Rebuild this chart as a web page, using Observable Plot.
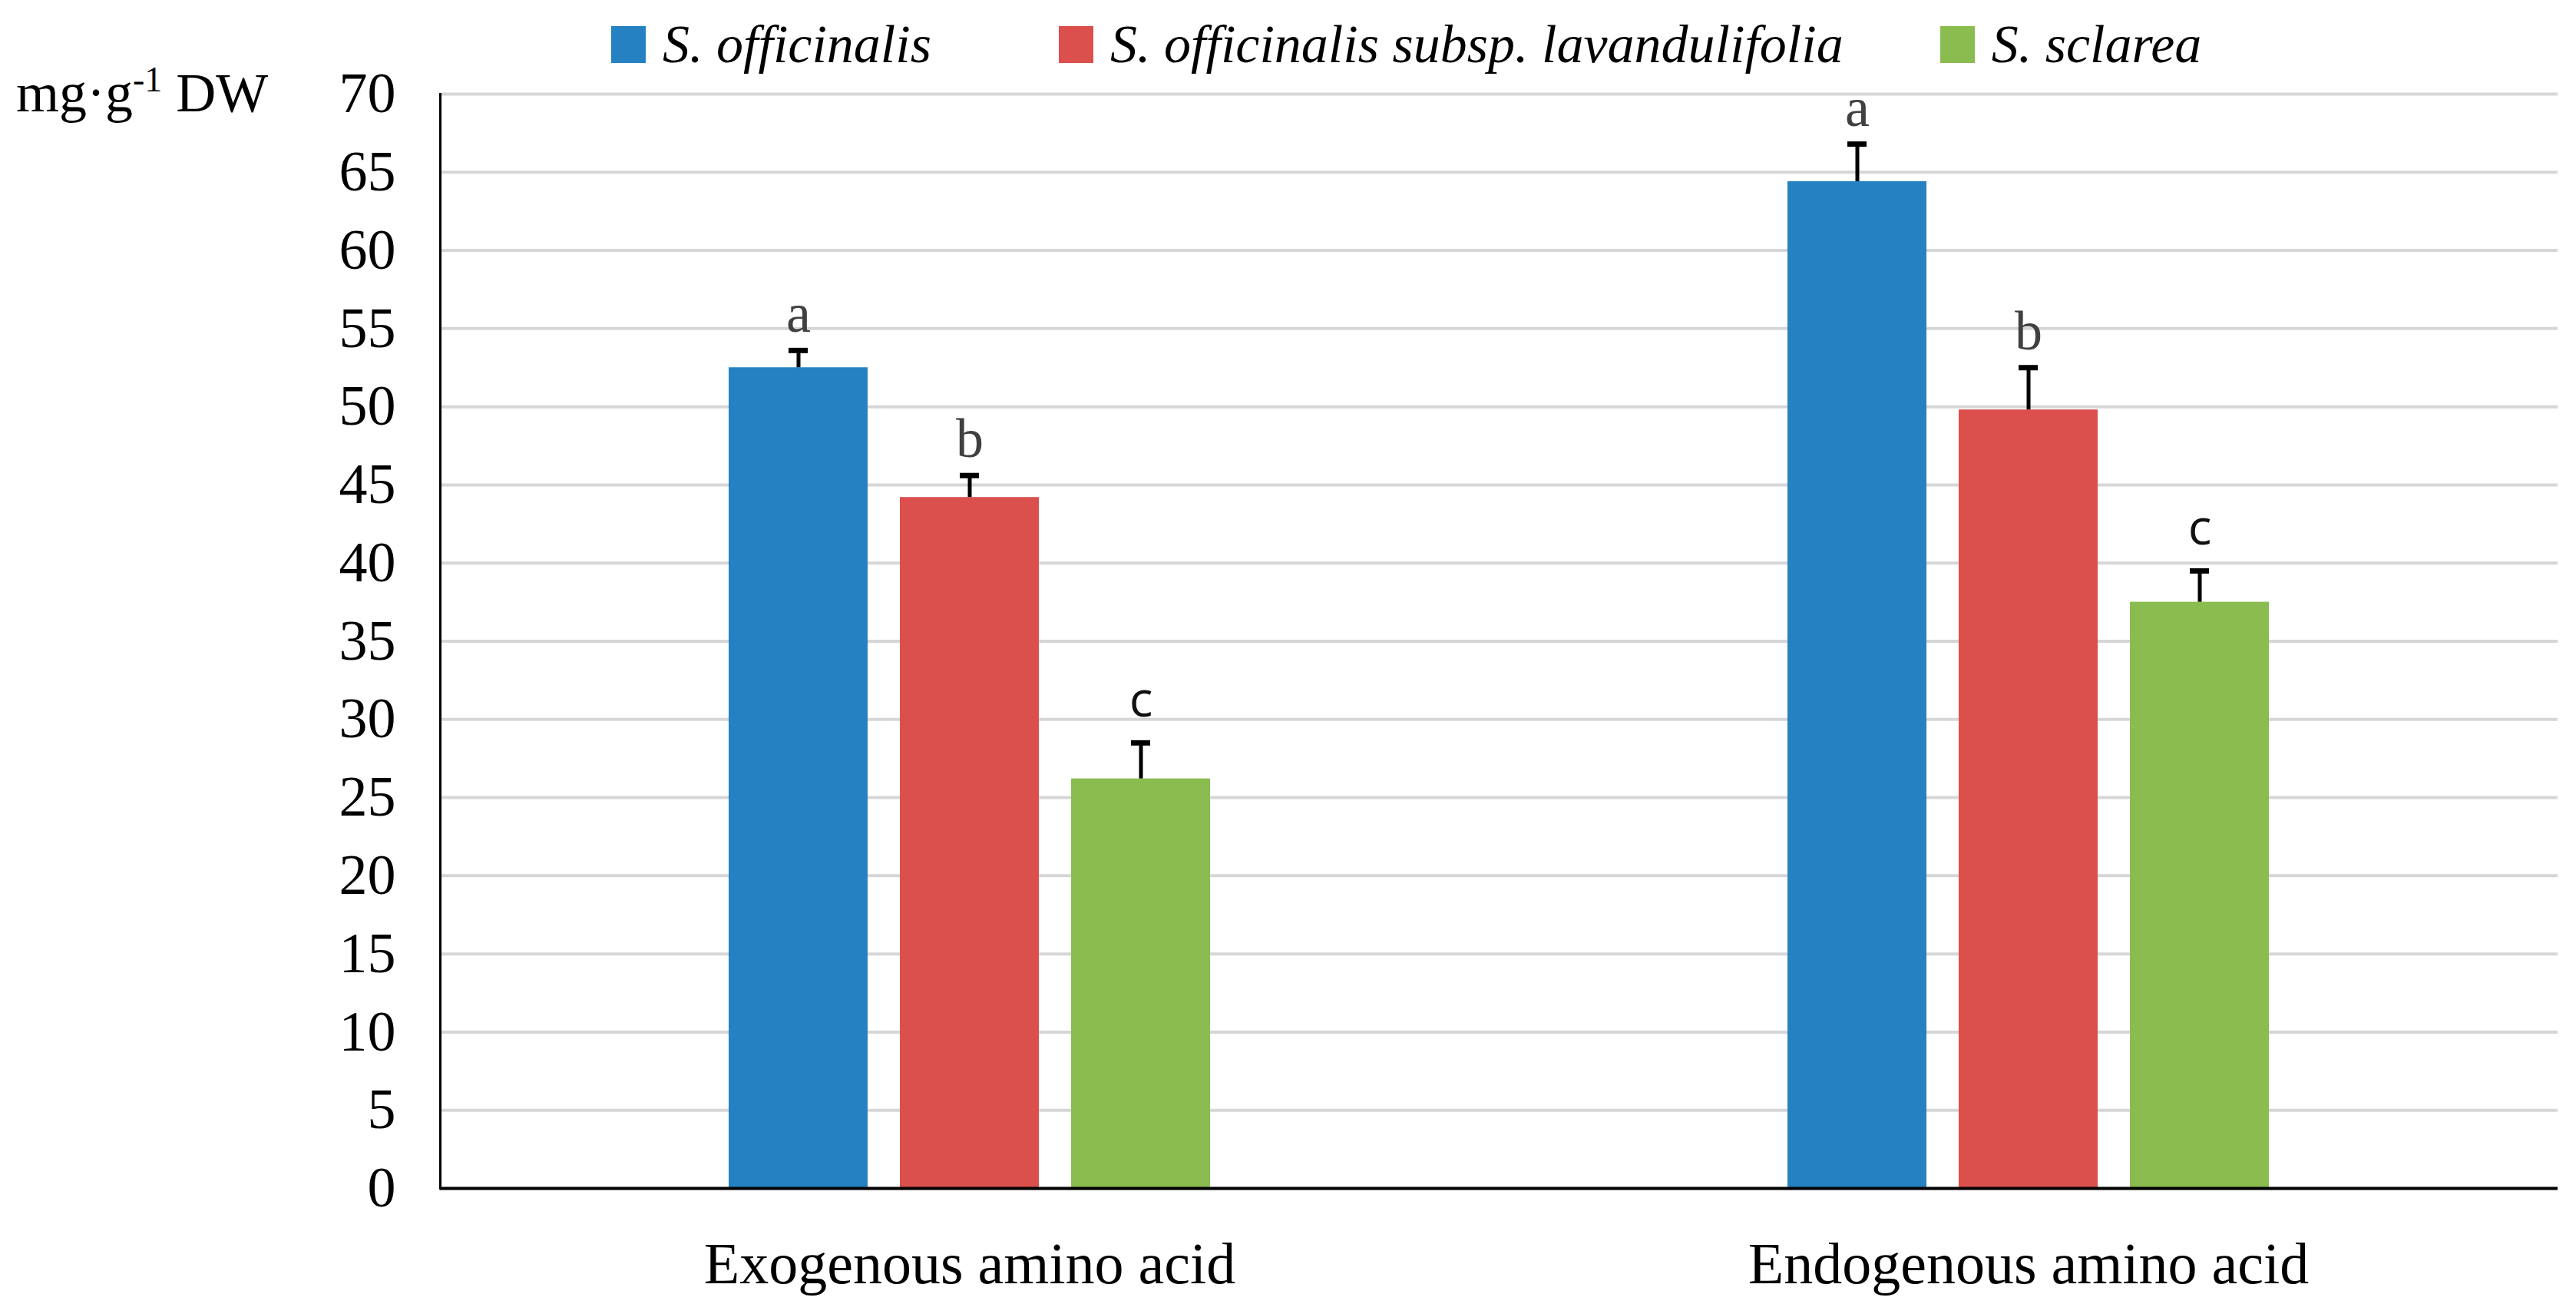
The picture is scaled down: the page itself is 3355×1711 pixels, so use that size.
<!DOCTYPE html>
<html>
<head>
<meta charset="utf-8">
<script src="https://cdn.jsdelivr.net/npm/d3@7"></script>
<script src="https://cdn.jsdelivr.net/npm/@observablehq/plot@0.6"></script>
<style>
  body { margin: 0; background: #fff; }
  #wrap { position: relative; width: 3355px; height: 1711px; font-family: "Liberation Serif", serif; color: #000; }
  #chart { position: absolute; left: 0; top: 0; }
  #legend { position: absolute; left: 796px; top: 34px; display: flex; align-items: center;
            font-style: italic; font-size: 70px; line-height: 48px; white-space: nowrap; }
  .item { display: flex; align-items: center; }
  .item:nth-child(1) { margin-right: 166px; }
  .item:nth-child(2) { margin-right: 126px; }
  .sw { width: 45px; height: 48px; margin-right: 22px; }
  #ylabel { position: absolute; left: 21px; top: 85px; font-size: 72px; line-height: 72px; white-space: nowrap; }
  #ylabel sup { font-size: 46px; vertical-align: 0; position: relative; top: -26px; }
</style>
</head>
<body>
<div id="wrap">
  <div id="chart"></div>
  <div id="legend"></div>
  <div id="ylabel">mg·g<sup>-1</sup> DW</div>
</div>
<script>
// Amino acid content (mg·g⁻¹ DW) of three sage taxa
const groups = ["Exogenous amino acid", "Endogenous amino acid"];
const species = ["S. officinalis", "S. officinalis subsp. lavandulifolia", "S. sclarea"];
const colors = ["#2581c1", "#db4f4c", "#8bbc4f"];

const exogenous = [52.5, 44.2, 26.2];
const exogenousErr = [1.1, 1.4, 2.3];
const exogenousLetters = ["a", "b", "c"];

const endogenous = [64.4, 49.8, 37.5];
const endogenousErr = [2.4, 2.7, 2.0];
const endogenousLetters = ["a", "b", "c"];

const yTicks = [0, 5, 10, 15, 20, 25, 30, 35, 40, 45, 50, 55, 60, 65, 70];

// long table: one row per bar
const rows = [];
species.forEach((s, i) => {
  rows.push({group: groups[0], species: s, value: exogenous[i], err: exogenousErr[i], letter: exogenousLetters[i]});
});
species.forEach((s, i) => {
  rows.push({group: groups[1], species: s, value: endogenous[i], err: endogenousErr[i], letter: endogenousLetters[i]});
});
const errTop = d => d.value + d.err;

const chart = Plot.plot({
  width: 3355,
  height: 1711,
  marginLeft: 573,
  marginRight: 24,
  marginTop: 122,
  marginBottom: 164,
  style: {fontFamily: "'Liberation Serif', serif", fontSize: "74px", color: "#000", background: "transparent"},
  fx: {domain: groups, padding: 0, label: null},
  x: {domain: species, paddingInner: 0.1875, paddingOuter: 1.672, axis: null},
  y: {domain: [0, 70], label: null},
  color: {domain: species, range: colors},
  marks: [
    Plot.gridY(yTicks, {stroke: "#d6d6d6", strokeWidth: 4, strokeOpacity: 1}),
    Plot.barY(rows, {fx: "group", x: "species", y: "value", fill: "species"}),
    // upper error bars
    Plot.ruleX(rows, {fx: "group", x: "species", y1: "value", y2: errTop, stroke: "#000", strokeWidth: 5}),
    Plot.tickY(rows, {fx: "group", x: "species", y: errTop, stroke: "#000", strokeWidth: 7, insetLeft: 78, insetRight: 78}),
    // significance letters
    Plot.text(rows.filter(d => d.letter !== "c"), {fx: "group", x: "species", y: errTop, text: "letter",
      lineAnchor: "bottom", dy: -24, fill: "#404040", fontSize: 72, fontFamily: "'Liberation Serif', serif"}),
    Plot.text(rows.filter(d => d.letter === "c"), {fx: "group", x: "species", y: errTop, text: "letter",
      lineAnchor: "bottom", dy: -34, fill: "#111", fontSize: 64, fontFamily: "'Open Sans', sans-serif"}),
    // axis lines
    Plot.frame({anchor: "left", facetAnchor: "left", stroke: "#000", strokeWidth: 3}),
    Plot.ruleY([0], {stroke: "#000", strokeWidth: 4}),
    Plot.axisY(yTicks, {tickSize: 0, tickPadding: 58, fontSize: 74, label: null}),
    Plot.axisFx({anchor: "bottom", tickSize: 0, tickPadding: 70, fontSize: 76, label: null})
  ]
});
document.getElementById("chart").append(chart);

// legend built from the same species and colour lists
const legend = d3.select("#legend");
species.forEach((s, i) => {
  const item = legend.append("div").attr("class", "item");
  item.append("div").attr("class", "sw").style("background", colors[i]);
  item.append("span").text(s);
});
</script>
</body>
</html>
